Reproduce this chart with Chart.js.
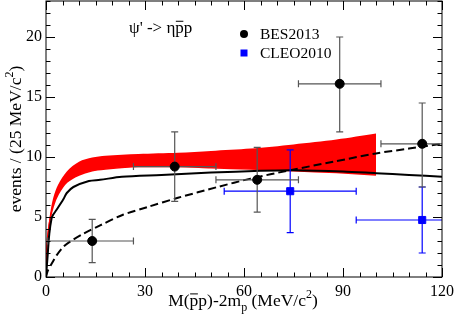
<!DOCTYPE html>
<html>
<head>
<meta charset="utf-8">
<script src="https://cdn.jsdelivr.net/npm/chart.js@4.4.0/dist/chart.umd.min.js"></script>
<style>
  html, body { margin: 0; padding: 0; background: #fff; }
  #wrap { width: 455px; height: 327px; }
</style>
</head>
<body>
<div id="wrap"><canvas id="myChart" width="455" height="327"></canvas></div>
<script>
// tick labels
const xTicks = [0, 30, 60, 90, 120];
const yTicks = [0, 5, 10, 15, 20];

// BES2013 points (x, y, y-range, x-range)
const besX = [14, 39, 64, 89, 114];
const besY = [3.0, 9.2, 8.1, 16.1, 11.1];
const besYLo = [1.2, 6.3, 5.4, 12.1, 7.5];
const besYHi = [4.8, 12.1, 10.8, 20.0, 14.5];
const besXLo = [0.5, 26.5, 51.5, 76.5, 101.5];
const besXHi = [26.5, 51.5, 76.5, 101.5, 126.5];

// CLEO2010 points
const cleoX = [74, 114];
const cleoY = [7.15, 4.75];
const cleoYLo = [3.7, 2.0];
const cleoYHi = [10.6, 7.5];
const cleoXLo = [54, 94];
const cleoXHi = [94, 134];

// solid black curve
const solidX = [0, 0.5, 1, 1.7, 2.2, 3.2, 5.3, 6.3, 8.3, 13, 16.4, 23, 35, 50, 65, 75, 90, 100, 110, 120];
const solidY = [0, 1.8, 3.6, 4.9, 5.2, 5.6, 6.5, 7.0, 7.5, 8.0, 8.1, 8.35, 8.5, 8.7, 8.85, 8.9, 8.8, 8.65, 8.5, 8.36];

// dashed curve
const dashX = [0, 0.5, 1.7, 3.2, 5.2, 7.3, 11.3, 16.4, 23, 31, 40, 52, 62, 74, 87, 100, 110, 120];
const dashY = [0, 0.5, 1.1, 1.8, 2.5, 2.95, 3.6, 4.3, 5.15, 5.85, 6.6, 7.5, 8.2, 8.9, 9.6, 10.3, 10.7, 11.1];

// red band
const bandX = [0, 0.1, 0.4, 1.2, 2.2, 3.7, 6.3, 10, 14, 18, 28, 40, 50, 62, 75, 88, 100];
const bandLo = [0, 1.5, 3.1, 4.75, 5.9, 6.9, 7.9, 8.5, 8.85, 9.0, 9.2, 9.2, 9.1, 9.0, 8.85, 8.7, 8.5];
const bandHi = [0, 1.6, 3.4, 5.2, 6.6, 7.7, 8.8, 9.6, 9.95, 10.1, 10.25, 10.35, 10.5, 10.7, 11.05, 11.45, 11.95];

const pts = (xs, ys) => xs.map((x, i) => ({x: x, y: ys[i]}));
const SERIF = '"Liberation Serif", "Times New Roman", serif';

function errorBars(chart, xs, ys, xlo, xhi, ylo, yhi, color) {
  const ctx = chart.ctx, xs_ = chart.scales.x, ys_ = chart.scales.y, a = chart.chartArea;
  ctx.save();
  ctx.beginPath();
  ctx.rect(a.left, a.top, a.right - a.left, a.bottom - a.top);
  ctx.clip();
  ctx.strokeStyle = color;
  ctx.lineWidth = 1.2;
  const cap = 3.5;
  for (let i = 0; i < xs.length; i++) {
    const px = xs_.getPixelForValue(xs[i]), py = ys_.getPixelForValue(ys[i]);
    const x1 = xs_.getPixelForValue(xlo[i]), x2 = xs_.getPixelForValue(xhi[i]);
    const y1 = ys_.getPixelForValue(ylo[i]), y2 = ys_.getPixelForValue(yhi[i]);
    ctx.beginPath();
    ctx.moveTo(x1, py); ctx.lineTo(x2, py);
    ctx.moveTo(x1, py - cap); ctx.lineTo(x1, py + cap);
    ctx.moveTo(x2, py - cap); ctx.lineTo(x2, py + cap);
    ctx.moveTo(px, y1); ctx.lineTo(px, y2);
    ctx.moveTo(px - cap, y1); ctx.lineTo(px + cap, y1);
    ctx.moveTo(px - cap, y2); ctx.lineTo(px + cap, y2);
    ctx.stroke();
  }
  ctx.restore();
}

// draw text pieces: {t, size, dy, bar}
function richText(ctx, parts, x, y, align) {
  let w = 0;
  parts.forEach(p => { ctx.font = p.size + 'px ' + SERIF; p.w = ctx.measureText(p.t).width; w += p.w; });
  let cx = align === 'center' ? x - w / 2 : x;
  parts.forEach(p => {
    ctx.font = p.size + 'px ' + SERIF;
    ctx.fillText(p.t, cx, y + (p.dy || 0));
    if (p.bar) {
      ctx.fillRect(cx + 0.5, y + (p.dy || 0) - p.size * 0.72, p.w - 1, 1);
    }
    cx += p.w;
  });
}

const framePlugin = {
  id: 'frame',
  beforeDatasetDraw(chart, args) {
    if (args.index === 0) errorBars(chart, besX, besY, besXLo, besXHi, besYLo, besYHi, '#555');
    if (args.index === 1) errorBars(chart, cleoX, cleoY, cleoXLo, cleoXHi, cleoYLo, cleoYHi, '#0000ff');
  },
  afterDraw(chart) {
    const ctx = chart.ctx, a = chart.chartArea, sx = chart.scales.x, sy = chart.scales.y;
    ctx.save();
    ctx.strokeStyle = '#000';
    ctx.lineWidth = 1;
    ctx.strokeRect(a.left, a.top, a.right - a.left, a.bottom - a.top);
    ctx.beginPath();
    for (let v = 0; v <= 120; v += 5) {
      const len = v % 30 === 0 ? 9 : 4.5;
      const px = Math.round(sx.getPixelForValue(v)) + 0.5;
      ctx.moveTo(px, a.bottom); ctx.lineTo(px, a.bottom - len);
      ctx.moveTo(px, a.top); ctx.lineTo(px, a.top + len);
    }
    for (let v = 0; v <= 23; v += 1) {
      const len = v % 5 === 0 ? 9 : 4.5;
      const py = Math.round(sy.getPixelForValue(v)) + 0.5;
      ctx.moveTo(a.left, py); ctx.lineTo(a.left + len, py);
      ctx.moveTo(a.right, py); ctx.lineTo(a.right - len, py);
    }
    ctx.stroke();

    ctx.fillStyle = '#000';
    ctx.textBaseline = 'alphabetic';
    // x title
    richText(ctx, [
      {t: 'M(', size: 17.5}, {t: 'p', size: 17.5, bar: true}, {t: 'p)-2m', size: 17.5},
      {t: 'p', size: 12, dy: 5}, {t: ' (MeV/c', size: 17.5}, {t: '2', size: 12, dy: -8}, {t: ')', size: 17.5}
    ], 243, 306, 'center');
    // y title
    ctx.save();
    ctx.translate(21, 139);
    ctx.rotate(-Math.PI / 2);
    richText(ctx, [
      {t: 'events / (25 MeV/c', size: 17.5}, {t: '2', size: 12, dy: -8}, {t: ')', size: 17.5}
    ], 0, 0, 'center');
    ctx.restore();
    // process label
    richText(ctx, [
      {t: "\u03c8' -> \u03b7", size: 17}, {t: 'p', size: 17, bar: true}, {t: 'p', size: 17}
    ], 129, 33, 'left');
    // legend
    ctx.beginPath();
    ctx.arc(244, 34, 4, 0, Math.PI * 2);
    ctx.fill();
    ctx.fillStyle = '#0000ff';
    ctx.fillRect(240.5, 49.5, 7, 7);
    ctx.fillStyle = '#000';
    richText(ctx, [{t: 'BES2013', size: 15.5}], 260, 39, 'left');
    richText(ctx, [{t: 'CLEO2010', size: 15.5}], 260, 58, 'left');
    ctx.restore();
  }
};

const ctx = document.getElementById('myChart').getContext('2d');
const mychart = new Chart(ctx, {
  type: 'scatter',
  data: {
    datasets: [
      { label: 'BES2013', data: pts(besX, besY), backgroundColor: '#000', borderColor: '#000',
        pointStyle: 'circle', pointRadius: 4.5, pointHoverRadius: 4.5, showLine: false },
      { label: 'CLEO2010', data: pts(cleoX, cleoY), backgroundColor: '#0000ff', borderColor: '#0000ff',
        pointStyle: 'rect', pointRadius: 5, pointHoverRadius: 5, showLine: false },
      { label: 'dashed', data: pts(dashX, dashY), showLine: true, borderColor: '#000', borderWidth: 2,
        borderDash: [8, 4], pointRadius: 0, tension: 0.3, fill: false },
      { label: 'solid', data: pts(solidX, solidY), showLine: true, borderColor: '#000', borderWidth: 2,
        pointRadius: 0, tension: 0.3, fill: false },
      { label: 'bandLo', data: pts(bandX, bandLo), showLine: true, borderColor: '#ff0000', borderWidth: 1.5,
        pointRadius: 0, tension: 0.3, fill: false },
      { label: 'bandHi', data: pts(bandX, bandHi), showLine: true, borderColor: '#ff0000', borderWidth: 0,
        pointRadius: 0, tension: 0.3, fill: '-1', backgroundColor: '#ff0000' }
    ]
  },
  options: {
    animation: false,
    responsive: false,
    events: [],
    layout: { autoPadding: false, padding: { top: 1, right: 13, left: 0, bottom: 0 } },
    plugins: { legend: { display: false }, tooltip: { enabled: false } },
    scales: {
      x: {
        type: 'linear', min: 0, max: 120,
        afterBuildTicks: s => { s.ticks = xTicks.map(v => ({value: v})); },
        afterFit: s => { s.height = 50; s.paddingLeft = 0; s.paddingRight = 0; },
        grid: { display: false, drawTicks: false },
        border: { display: false },
        ticks: { color: '#000', padding: 5, maxRotation: 0, font: { family: SERIF, size: 16 } }
      },
      y: {
        type: 'linear', min: 0, max: 23,
        afterBuildTicks: s => { s.ticks = yTicks.map(v => ({value: v})); },
        afterFit: s => { s.width = 46; s.paddingTop = 0; s.paddingBottom = 0; },
        grid: { display: false, drawTicks: false },
        border: { display: false },
        ticks: { color: '#000', padding: 4, font: { family: SERIF, size: 16 } }
      }
    }
  },
  plugins: [framePlugin]
});
</script>
</body>
</html>
